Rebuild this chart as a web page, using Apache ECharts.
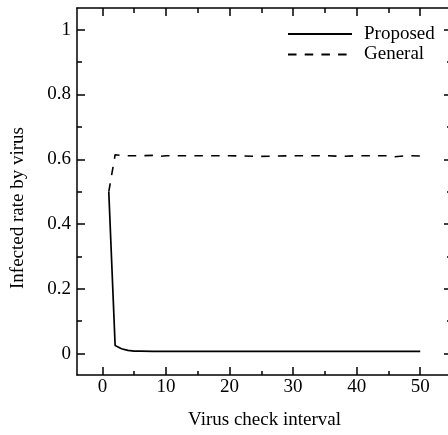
<!DOCTYPE html>
<html>
<head>
<meta charset="utf-8">
<script src="https://cdn.jsdelivr.net/npm/echarts@6/dist/echarts.min.js"></script>
<style>
  html, body { margin: 0; padding: 0; background: #fff; overflow: hidden; }
  #wrap { position: relative; width: 448px; height: 435px; overflow: hidden; }
  /* the frame's right edge runs just past the page edge */
  #chart { position: absolute; left: 0; top: 0; width: 452px; height: 435px; }
</style>
</head>
<body>
<div id="wrap">
  <div id="chart"></div>
</div>
<script>
// Virus check interval (x) against infected rate
const checkInterval = [1, 2, 3, 4, 5, 6, 8, 9, 10, 15, 20, 25, 30, 35, 38, 40, 45, 46, 48, 50];
const proposedRate  = [0.5, 0.025, 0.015, 0.010, 0.008, 0.008, 0.007, 0.007, 0.007, 0.007,
                       0.007, 0.007, 0.007, 0.007, 0.007, 0.007, 0.007, 0.007, 0.007, 0.007];
const generalRate   = [0.5, 0.614, 0.612, 0.611, 0.611, 0.611, 0.612, 0.609, 0.611, 0.611,
                       0.611, 0.609, 0.611, 0.611, 0.609, 0.611, 0.611, 0.608, 0.611, 0.610];

const xMajorTicks = [0, 10, 20, 30, 40, 50];
const xMinorTicks = [5, 15, 25, 35, 45];
const yMajorTicks = [0, 0.2, 0.4, 0.6, 0.8, 1];
const yMinorTicks = [0.1, 0.3, 0.5, 0.7, 0.9];

const FONT = 'Liberation Serif';
const FONT_SIZE = 19;
const X_MIN = -4, X_MAX = 55;
const Y_MIN = -0.066, Y_MAX = 1.067;

function pairs(xs, ys) { return xs.map((x, i) => [x, ys[i]]); }

function xAxisDef(position, ticks, len, showLine, showLabel, extra) {
  return Object.assign({
    type: 'value', position: position, min: X_MIN, max: X_MAX,
    splitLine: { show: false },
    axisLine: { show: showLine, onZero: false, lineStyle: { color: '#000', width: 1.5 } },
    axisTick: { show: true, inside: true, length: len, customValues: ticks, lineStyle: { color: '#000', width: 1.5 } },
    axisLabel: showLabel
      ? { show: true, customValues: ticks, color: '#000', fontFamily: FONT, fontSize: FONT_SIZE, margin: 3 }
      : { show: false }
  }, extra || {});
}

function yAxisDef(position, ticks, len, showLine, showLabel) {
  return {
    type: 'value', position: position, min: Y_MIN, max: Y_MAX,
    splitLine: { show: false },
    axisLine: { show: showLine, onZero: false, lineStyle: { color: '#000', width: 1.5 } },
    axisTick: { show: true, inside: true, length: len, customValues: ticks, lineStyle: { color: '#000', width: 1.5 } },
    axisLabel: showLabel
      ? { show: true, customValues: ticks, color: '#000', fontFamily: FONT, fontSize: FONT_SIZE, margin: 6,
          formatter: v => String(v) }
      : { show: false }
  };
}

const chart = echarts.init(document.getElementById('chart'), null, { renderer: 'canvas' });

chart.setOption({
  animation: false,
  backgroundColor: '#fff',
  grid: { left: 77, right: 0, top: 8, bottom: 54, containLabel: false },
  legend: {
    orient: 'vertical',
    left: 287, top: 24.5,
    itemWidth: 64, itemHeight: 14, itemGap: 1.5,
    padding: 0,
    itemStyle: { opacity: 0 },
    textStyle: { color: '#000', fontFamily: FONT, fontSize: FONT_SIZE, padding: [0, 0, 0, 7] },
    data: ['Proposed', 'General']
  },
  graphic: [{
    type: 'text',
    x: 18.5, y: 208, rotation: Math.PI / 2,
    style: {
      text: 'Infected rate by virus', fill: '#000',
      font: FONT_SIZE + 'px "' + FONT + '"',
      align: 'center', verticalAlign: 'middle'
    }
  }],
  xAxis: [
    xAxisDef('bottom', xMajorTicks, 8, true, true, {
      name: 'Virus check interval', nameLocation: 'middle', nameGap: 36,
      nameTextStyle: { color: '#000', fontFamily: FONT, fontSize: FONT_SIZE }
    }),
    xAxisDef('bottom', xMinorTicks, 4, false, false),
    xAxisDef('top', xMajorTicks, 8, true, false),
    xAxisDef('top', xMinorTicks, 5, false, false)
  ],
  yAxis: [
    yAxisDef('left', yMajorTicks, 8, true, true),
    yAxisDef('left', yMinorTicks, 5, false, false),
    yAxisDef('right', yMajorTicks, 8, true, false),
    yAxisDef('right', yMinorTicks, 5, false, false)
  ],
  series: [
    {
      name: 'Proposed', type: 'line', xAxisIndex: 0, yAxisIndex: 0,
      data: pairs(checkInterval, proposedRate),
      showSymbol: false, symbol: 'none',
      lineStyle: { color: '#000', width: 1.7, type: 'solid' },
      itemStyle: { color: '#000' }
    },
    {
      name: 'General', type: 'line', xAxisIndex: 0, yAxisIndex: 0,
      data: pairs(checkInterval, generalRate),
      showSymbol: false, symbol: 'none',
      lineStyle: { color: '#000', width: 1.6, type: [8.5, 8.2] },
      itemStyle: { color: '#000' }
    }
  ]
});
</script>
</body>
</html>
